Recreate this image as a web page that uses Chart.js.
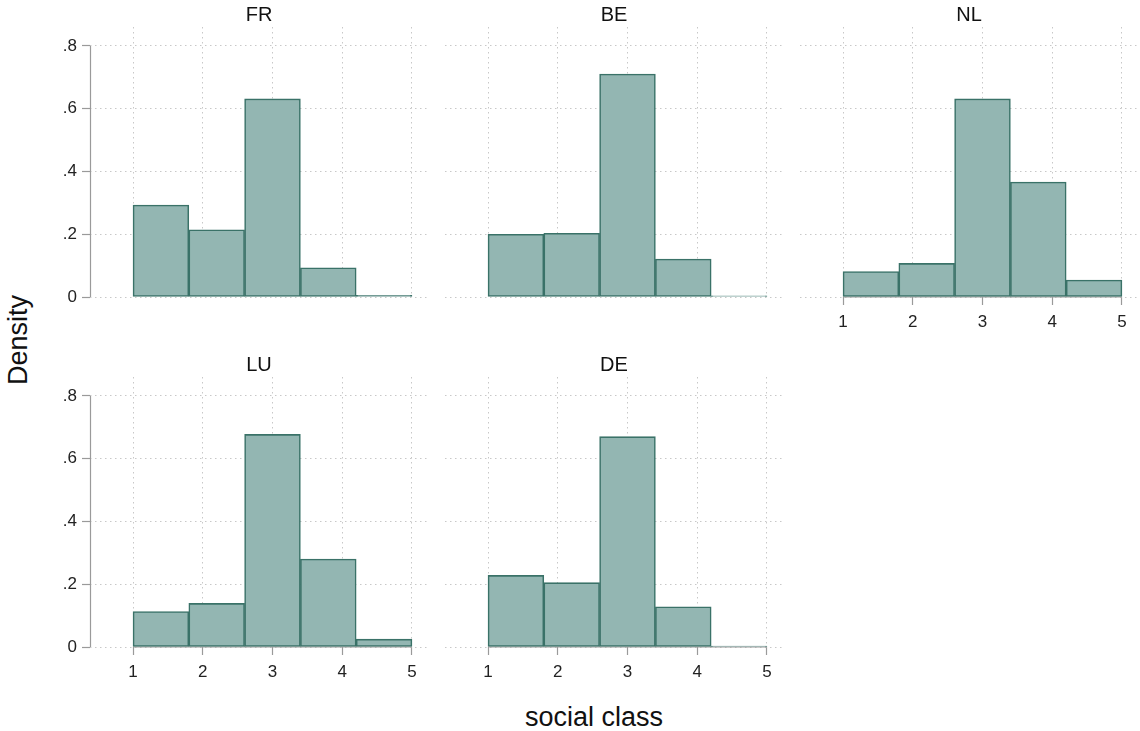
<!DOCTYPE html>
<html>
<head>
<meta charset="utf-8">
<script src="https://cdn.jsdelivr.net/npm/chart.js@4/dist/chart.umd.min.js"></script>
<style>
  html, body { margin: 0; padding: 0; background: #fff; }
  #wrap { position: relative; width: 1140px; height: 731px; overflow: hidden; font-family: "Liberation Sans", Arial, sans-serif; }
  canvas { position: absolute; }
  .ytitle { position: absolute; left: 18px; top: 340px; transform: translate(-50%, -50%) rotate(-90deg); font-size: 27px; color: #111; white-space: nowrap; }
  .xtitle { position: absolute; left: 594px; top: 717px; transform: translate(-50%, -50%); font-size: 27px; color: #111; white-space: nowrap; }
</style>
</head>
<body>
<div id="wrap">
  <div class="ytitle">Density</div>
  <div class="xtitle">social class</div>
</div>
<script>
// histogram bins (width 0.8) - centres of each bar
const binCenters = [1.4, 2.2, 3.0, 3.8, 4.6];
const xTicks = [1, 2, 3, 4, 5];
const yTicks = [0, 0.2, 0.4, 0.6, 0.8];

// density per country
const fr = [0.293, 0.214, 0.631, 0.093, 0.005];
const be = [0.200, 0.203, 0.710, 0.121, 0.004];
const nl = [0.081, 0.107, 0.631, 0.366, 0.054];
const lu = [0.113, 0.139, 0.677, 0.280, 0.025];
const de = [0.228, 0.205, 0.670, 0.128, 0.003];

const fillColor = 'rgb(147, 182, 178)';
const edgeColor = 'rgb(58, 114, 104)';
const axisColor = '#9a9a9a';
const gridColor = '#c8c8c8';
const fontFamily = '"Liberation Sans", Arial, sans-serif';

const panels = [
  { title: 'FR', values: fr, left: 30,  top: 0,   showY: true,  showX: false },
  { title: 'BE', values: be, left: 385, top: 0,   showY: false, showX: false },
  { title: 'NL', values: nl, left: 740, top: 0,   showY: false, showX: true },
  { title: 'LU', values: lu, left: 30,  top: 350, showY: true,  showX: true },
  { title: 'DE', values: de, left: 385, top: 350, showY: false, showX: true }
];

// solid axis lines that only run between the first and last tick (Stata style)
const axisLines = {
  id: 'axisLines',
  beforeDatasetsDraw(chart, args, opts) {
    const { ctx, scales: { x, y }, chartArea } = chart;
    ctx.save();
    ctx.strokeStyle = axisColor;
    ctx.lineWidth = 1.2;
    if (opts.yLine) {
      const px = chartArea.left + 0.5;
      ctx.beginPath();
      ctx.moveTo(px, y.getPixelForValue(yTicks[0]));
      ctx.lineTo(px, y.getPixelForValue(yTicks[yTicks.length - 1]));
      ctx.stroke();
    }
    if (opts.xLine) {
      const py = y.getPixelForValue(0);
      ctx.beginPath();
      ctx.moveTo(x.getPixelForValue(xTicks[0]), py);
      ctx.lineTo(x.getPixelForValue(xTicks[xTicks.length - 1]), py);
      ctx.stroke();
    }
    ctx.restore();
  }
};

const wrap = document.getElementById('wrap');

panels.forEach(p => {
  const canvas = document.createElement('canvas');
  canvas.width = 398;
  canvas.height = 337;
  canvas.style.left = p.left + 'px';
  canvas.style.top = p.top + 'px';
  wrap.appendChild(canvas);

  new Chart(canvas.getContext('2d'), {
    type: 'bar',
    data: {
      datasets: [{
        data: binCenters.map((c, i) => ({ x: c, y: p.values[i] })),
        backgroundColor: fillColor,
        borderColor: edgeColor,
        borderWidth: 1.6,
        borderSkipped: false,
        barPercentage: 1,
        categoryPercentage: 1
      }]
    },
    options: {
      responsive: false,
      animation: false,
      layout: { padding: 0 },
      plugins: {
        legend: { display: false },
        tooltip: { enabled: false },
        title: {
          display: true,
          text: p.title,
          fullSize: false,
          color: '#111',
          font: { family: fontFamily, size: 20, weight: 'normal' },
          padding: { top: 3, bottom: 0 }
        },
        axisLines: { yLine: p.showY, xLine: p.showX }
      },
      scales: {
        x: {
          type: 'linear',
          offset: false,
          min: 0.383,
          max: 5.23,
          afterFit: s => { s.height = 40; },
          afterBuildTicks: s => { s.ticks = xTicks.map(v => ({ value: v })); },
          ticks: {
            display: p.showX,
            includeBounds: false,
            color: '#222',
            padding: 7,
            font: { family: fontFamily, size: 17 }
          },
          grid: {
            offset: false,
            color: gridColor,
            lineWidth: 1,
            drawTicks: p.showX,
            tickLength: 8,
            tickColor: axisColor,
            tickWidth: 1.2,
            tickBorderDash: []
          },
          border: { display: false, dash: [1.5, 3.5] }
        },
        y: {
          min: 0,
          max: 0.86,
          afterFit: s => { s.width = 60; },
          afterBuildTicks: s => { s.ticks = yTicks.map(v => ({ value: v })); },
          ticks: {
            display: p.showY,
            color: '#222',
            padding: 5,
            font: { family: fontFamily, size: 17 },
            callback: v => v === 0 ? '0' : String(Math.round(v * 10) / 10).replace(/^0/, '')
          },
          grid: {
            color: gridColor,
            lineWidth: 1,
            drawTicks: p.showY,
            tickLength: 8,
            tickColor: axisColor,
            tickWidth: 1.2,
            tickBorderDash: []
          },
          border: { display: false, dash: [1.5, 3.5] }
        }
      }
    },
    plugins: [axisLines]
  });
});
</script>
</body>
</html>
